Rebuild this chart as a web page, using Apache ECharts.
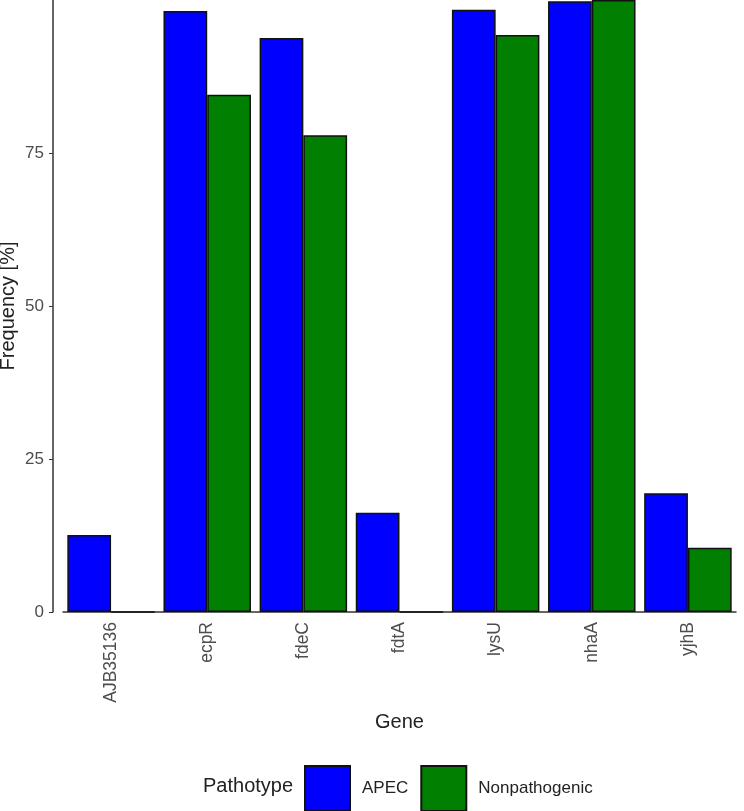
<!DOCTYPE html>
<html>
<head>
<meta charset="UTF-8">
<title>Gene frequency</title>
<script src="https://cdn.jsdelivr.net/npm/echarts@6/dist/echarts.min.js"></script>
<style>
  html, body { margin: 0; padding: 0; background: #fff; }
  #chart { width: 744px; height: 811px; }
</style>
</head>
<body>
<div id="chart"></div>
<script>
// data
var genes = ['AJB35136', 'ecpR', 'fdeC', 'fdtA', 'lysU', 'nhaA', 'yjhB'];
var apec = [12.6, 98.2, 93.8, 16.2, 98.4, 99.8, 19.4];
var nonpathogenic = [0, 84.5, 77.9, 0, 94.3, 100, 10.5];
var yTicks = [0, 25, 50, 75];

var chart = echarts.init(document.getElementById('chart'));

var barStyle = function (color) {
  return { color: color, borderColor: '#111', borderWidth: 1.5 };
};

chart.setOption({
  animation: false,
  title: {
    text: 'Pathotype',
    left: 198,
    top: 771,
    textStyle: { fontFamily: 'Liberation Sans', fontSize: 20, fontWeight: 'normal', color: '#222' }
  },
  legend: {
    left: 299,
    top: 760,
    itemWidth: 45,
    itemHeight: 45,
    itemGap: 12,
    icon: 'rect',
    textStyle: { fontFamily: 'Liberation Sans', fontSize: 17, color: '#222', padding: [0, 0, 0, 7] },
    data: ['APEC', 'Nonpathogenic']
  },
  grid: { left: 63, right: 8, top: 0, bottom: 199, outerBoundsMode: 'none', containLabel: false },
  xAxis: {
    type: 'category',
    data: genes,
    name: 'Gene',
    nameLocation: 'middle',
    nameGap: 100,
    nameMoveOverlap: false,
    nameTextStyle: { fontFamily: 'Liberation Sans', fontSize: 20, color: '#222' },
    axisLine: { lineStyle: { color: '#333', width: 1.5 } },
    axisTick: { alignWithLabel: true, length: 4, lineStyle: { color: '#333' } },
    axisLabel: { rotate: 90, margin: 10, fontFamily: 'Liberation Sans', fontSize: 17.5, color: '#4d4d4d' }
  },
  yAxis: {
    type: 'value',
    min: 0,
    max: 100,
    offset: 10,
    name: 'Frequency [%]',
    nameLocation: 'middle',
    nameGap: 35,
    nameMoveOverlap: false,
    nameTextStyle: { fontFamily: 'Liberation Sans', fontSize: 20, color: '#222' },
    axisLine: { show: true, lineStyle: { color: '#333', width: 1.5 } },
    axisTick: { show: true, length: 4, customValues: yTicks, lineStyle: { color: '#333' } },
    axisLabel: { margin: 9, customValues: yTicks, fontFamily: 'Liberation Sans', fontSize: 17, color: '#4d4d4d' },
    splitLine: { show: false }
  },
  series: [
    {
      name: 'APEC',
      type: 'bar',
      data: apec,
      barGap: '0%',
      barCategoryGap: '9%',
      itemStyle: barStyle('#0000ff')
    },
    {
      name: 'Nonpathogenic',
      type: 'bar',
      data: nonpathogenic,
      itemStyle: barStyle('#007f00')
    }
  ]
});
</script>
</body>
</html>
